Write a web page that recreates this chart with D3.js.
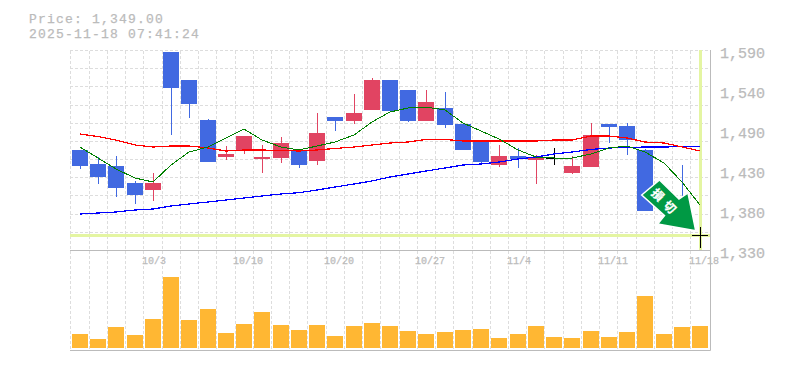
<!DOCTYPE html>
<html>
<head>
<meta charset="utf-8">
<script src="https://cdnjs.cloudflare.com/ajax/libs/d3/7.8.5/d3.min.js"></script>
<style>
    html, body { margin: 0; padding: 0; background: #fff; }
    svg { display: block; }
    text { font-family: "Liberation Mono", monospace; fill: #bbb; stroke: #bbb; stroke-width: 0.25; }
</style>
</head>
<body>
<div id="chart"></div>
<script>
var dates = ["9/29", "9/30", "10/1", "10/2", "10/3", "10/6", "10/7", "10/8", "10/9", "10/10",
    "10/14", "10/15", "10/16", "10/17", "10/20", "10/21", "10/22", "10/23", "10/24", "10/27",
    "10/28", "10/29", "10/30", "10/31", "11/4", "11/5", "11/6", "11/7", "11/10", "11/11",
    "11/12", "11/13", "11/14", "11/17", "11/18"];

var open = [1460, 1441.8, 1439.2, 1417.1, 1408, 1587.4, 1551, 1499, 1450.9, 1458.7,
    1448.3, 1449.6, 1458.7, 1445.7, 1502.9, 1497.7, 1512, 1551, 1538, 1497.7,
    1514.6, 1493.8, 1473, 1440.5, 1452.2, 1447, 1449.6, 1430.1, 1437.9, 1493.8,
    1491.2, 1460, 1405.4, 1395, 1349];
var high = [1460, 1450.9, 1452.2, 1419.7, 1430.1, 1587.4, 1551, 1500.3, 1465.2, 1478.2,
    1466.5, 1476.9, 1461.3, 1508.1, 1502.9, 1532.8, 1553.6, 1551, 1538, 1538,
    1535.4, 1493.8, 1473, 1466.5, 1462.6, 1453.5, 1462.6, 1452.2, 1495.1, 1493.8,
    1495.1, 1461.3, 1405.4, 1440.5, 1359.9];
var low = [1435.3, 1415.8, 1398.9, 1389.8, 1393.7, 1479.5, 1501.6, 1444.4, 1447, 1454.8,
    1430.1, 1443.1, 1436.6, 1440.5, 1484.7, 1493.8, 1512, 1510.7, 1496.4, 1497.7,
    1488.6, 1460, 1443.1, 1437.9, 1436.6, 1415.8, 1440.5, 1428.8, 1437.9, 1469.1,
    1453.5, 1380.7, 1389.8, 1366.4, 1332.6];
var close = [1439.2, 1424.9, 1410.6, 1401.5, 1417.1, 1540.6, 1519.8, 1444.4, 1454.8, 1478.2,
    1450.9, 1469.1, 1440.5, 1482.1, 1497.7, 1508.1, 1551, 1510.7, 1497.7, 1522.4,
    1492.5, 1460, 1444.4, 1452.2, 1448.3, 1449.6, 1449.6, 1439.2, 1479.5, 1489.9,
    1473, 1380.7, 1389.8, 1366.4, 1349];

var maShort = [1463.9, 1449.6, 1435.3, 1423.6, 1418.4, 1440.5, 1457.4, 1463.9, 1475.6, 1487.3,
    1473, 1463.9, 1460, 1465.2, 1470.4, 1479.5, 1496.4, 1509.4, 1514.6, 1515.9,
    1512, 1495.1, 1484.7, 1474.3, 1460, 1450.9, 1449.6, 1449.6, 1454.8, 1462.6,
    1465.2, 1457.4, 1443.1, 1418.4, 1388.5];
var maMid = [1480.8, 1477.5, 1473, 1466.5, 1463.9, 1465.2, 1465.2, 1462.6, 1458.7, 1460,
    1460, 1459.4, 1458.7, 1460, 1462, 1463.9, 1466.5, 1469.1, 1470.4, 1473.7,
    1473.7, 1471.7, 1471.7, 1471.7, 1471.7, 1471.7, 1473, 1473, 1478.2, 1478.2,
    1475.6, 1470.4, 1469.1, 1463.9, 1458.7];
var maLong = [1376.8, 1378.1, 1379.4, 1382, 1383.3, 1387.2, 1389.8, 1392.4, 1395, 1397.6,
    1400.2, 1402.8, 1404.5, 1408, 1411.9, 1415.8, 1419.7, 1424.9, 1428.8, 1432.7,
    1436.6, 1440.5, 1441.8, 1444.4, 1448.3, 1450.9, 1454.8, 1457.4, 1460.7, 1462.6,
    1463.3, 1463.9, 1463.9, 1464.3, 1464.3];

var volume = [14, 9, 21, 13, 29, 71, 28, 39, 15, 24, 36, 23, 18, 23, 12, 22, 25, 22,
    17, 14, 16, 18, 19, 10, 14, 22, 11, 10, 17, 11, 16, 52, 14, 21, 22];

var priceTicks = [1330, 1382, 1434, 1486, 1538, 1590];
var priceLabels = ["1,330", "1,380", "1,430", "1,490", "1,540", "1,590"];
var dateTicks = ["10/3", "10/10", "10/20", "10/27", "11/4", "11/11", "11/18"];
var titleLines = ["Price: 1,349.00", "2025-11-18 07:41:24"];
var lastPrice = 1349;

var width = 785, height = 370;
var svg = d3.select("#chart").append("svg")
    .attr("width", width)
    .attr("height", height);

var x = d3.scaleBand().domain(dates).range([70.9, 709.1]);
var xc = function (d) { return Math.round(x(d) + x.step() / 2); };
var y = d3.scaleLinear().domain([1330, 1590]).range([250, 50]);
var yv = d3.scaleLinear().domain([0, 71]).range([348, 277]);

// grid, 11 rows in the price panel
var gridPrices = d3.range(1, 12).map(function (k) { return 1330 + k * 260 / 11; });
var grid = svg.append("g").attr("stroke", "#ddd").attr("stroke-dasharray", "3,2");
grid.selectAll(".gh").data(gridPrices).enter().append("line")
    .attr("x1", 70).attr("x2", 710)
    .attr("y1", function (d) { return Math.round(y(d)) + 0.5; })
    .attr("y2", function (d) { return Math.round(y(d)) + 0.5; });
grid.selectAll(".gv").data(dates).enter().append("line")
    .attr("x1", function (d) { return Math.floor(x(d)) + 0.5; })
    .attr("x2", function (d) { return Math.floor(x(d)) + 0.5; })
    .attr("y1", 51).attr("y2", 350);

// frame
svg.append("path")
    .attr("fill", "none").attr("stroke", "#bbb")
    .attr("d", "M70,250.5H710M70,350.5H710.5V50");

// last price crosshair
svg.append("line")
    .attr("x1", 70).attr("x2", 710)
    .attr("y1", y(lastPrice)).attr("y2", y(lastPrice))
    .attr("stroke", "#e4f5a2").attr("stroke-width", 3);
svg.append("line")
    .attr("x1", xc("11/18") + 0.5).attr("x2", xc("11/18") + 0.5)
    .attr("y1", 50).attr("y2", 250)
    .attr("stroke", "#e4f5a2").attr("stroke-width", 3);

// candles
var candles = svg.append("g").selectAll("g").data(dates).enter().append("g");
var colour = function (i) {
    if (open[i] === close[i]) return "#000";
    return close[i] > open[i] ? "#e14462" : "#4169e1";
};
candles.append("line")
    .attr("x1", function (d) { return xc(d) + 0.5; })
    .attr("x2", function (d) { return xc(d) + 0.5; })
    .attr("y1", function (d, i) { return y(high[i]); })
    .attr("y2", function (d, i) { return y(low[i]); })
    .attr("stroke", function (d, i) { return colour(i); });
candles.append("rect")
    .attr("x", function (d) { return xc(d) - 8; })
    .attr("width", 16)
    .attr("y", function (d, i) { return Math.round(y(Math.max(open[i], close[i]))); })
    .attr("height", function (d, i) {
        return Math.max(1, Math.round(y(Math.min(open[i], close[i]))) - Math.round(y(Math.max(open[i], close[i]))));
    })
    .attr("fill", function (d, i) { return colour(i); });

// moving averages
var line = d3.line()
    .x(function (d, i) { return xc(dates[i]); })
    .y(function (d) { return y(d); });
[[maLong, "#0000ff", 1.2], [maMid, "#ff0000", 1.2], [maShort, "#008000", 1]].forEach(function (s) {
    svg.append("path")
        .attr("fill", "none")
        .attr("stroke", s[1])
        .attr("stroke-width", s[2])
        .attr("shape-rendering", "crispEdges")
        .attr("d", line(s[0]));
});

// volume
svg.append("g").selectAll("rect").data(volume).enter().append("rect")
    .attr("x", function (d, i) { return xc(dates[i]) - 8; })
    .attr("width", 16)
    .attr("y", function (d) { return yv(d); })
    .attr("height", function (d) { return yv(0) - yv(d); })
    .attr("fill", "#ffb733");

// axis labels
svg.append("g").selectAll("text").data(priceTicks).enter().append("text")
    .attr("x", 720)
    .attr("y", function (d) { return y(d) + 8; })
    .attr("font-size", 15)
    .text(function (d, i) { return priceLabels[i]; });
svg.append("g").selectAll("text").data(dateTicks).enter().append("text")
    .attr("x", function (d) { return xc(d) - 11; })
    .attr("y", 264)
    .attr("font-size", 10)
    .text(function (d) { return d; });
// smaller font with added spacing so the two lines keep the same width without touching
svg.append("g").selectAll("text").data(titleLines).enter().append("text")
    .attr("x", 29)
    .attr("y", function (d, i) { return 23 + i * 15; })
    .attr("font-size", 13)
    .attr("letter-spacing", 1.2)
    .text(function (d) { return d; });

// signal arrow
var arrow = svg.append("g");
arrow.append("path")
    .attr("d", "M641.7,195L659.5,180L679,199L688,193L695.7,230.7L657.7,224L664.5,215.5Z")
    .attr("fill", "#009944")
    .attr("stroke", "#fff")
    .attr("stroke-width", 1.5);
arrow.append("text")
    .attr("transform", "translate(666.5,202) rotate(45)")
    .attr("text-anchor", "middle")
    .attr("dominant-baseline", "central")
    .attr("font-size", 12)
    .attr("font-weight", "bold")
    .attr("letter-spacing", 5)
    .style("font-family", "'Noto Sans CJK JP'")
    .style("fill", "#fff")
    .style("stroke", "#fff")
    .text("損切");
</script>
</body>
</html>
